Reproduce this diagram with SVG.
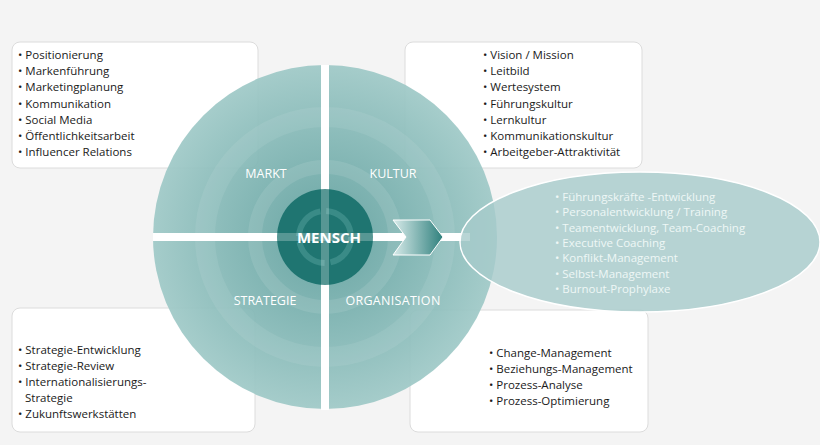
<svg xmlns="http://www.w3.org/2000/svg" width="820" height="445" viewBox="0 0 820 445">
<defs>
<radialGradient id="g" cx="325" cy="237" r="172" gradientUnits="userSpaceOnUse">
<stop offset="0" stop-color="#5f9f9d"/><stop offset="0.6" stop-color="#84b8b6"/><stop offset="1" stop-color="#9fc9c7"/>
</radialGradient>
<linearGradient id="ar" x1="0" y1="0" x2="1" y2="0"><stop offset="0" stop-color="#d8ebea"/><stop offset="1" stop-color="#2f807d"/></linearGradient>
<style>
.box{fill:#fff;stroke:#dcdcdc;stroke-width:1}
.t{font-family:"Open Sans","DejaVu Sans",sans-serif;font-size:11.5px;fill:#1a1a1a}
.w{font-family:"Open Sans","DejaVu Sans",sans-serif;font-size:11.5px;fill:#eef7f6}
.lab{font-family:"Open Sans","DejaVu Sans",sans-serif;font-size:12.5px;fill:#fff}
</style>
</defs>
<rect width="820" height="445" fill="#f4f4f4"/>
<g id="box-markt"><rect class="box" x="12" y="42" width="246" height="126" rx="8"/>
<text class="t" x="18" y="59"><tspan x="18">• Positionierung</tspan><tspan x="18" dy="16.2">• Markenführung</tspan><tspan x="18" dy="16.2">• Marketingplanung</tspan><tspan x="18" dy="16.2">• Kommunikation</tspan><tspan x="18" dy="16.2">• Social Media</tspan><tspan x="18" dy="16.2">• Öffentlichkeitsarbeit</tspan><tspan x="18" dy="16.2">• Influencer Relations</tspan></text></g>
<g id="box-kultur"><rect class="box" x="405" y="42" width="237" height="126" rx="8"/>
<text class="t" x="483" y="59"><tspan x="483">• Vision / Mission</tspan><tspan x="483" dy="16.2">• Leitbild</tspan><tspan x="483" dy="16.2">• Wertesystem</tspan><tspan x="483" dy="16.2">• Führungskultur</tspan><tspan x="483" dy="16.2">• Lernkultur</tspan><tspan x="483" dy="16.2">• Kommunikationskultur</tspan><tspan x="483" dy="16.2">• Arbeitgeber-Attraktivität</tspan></text></g>
<g id="box-strategie"><rect class="box" x="12" y="308" width="243" height="124" rx="8"/>
<text class="t" x="18" y="354"><tspan x="18">• Strategie-Entwicklung</tspan><tspan x="18" dy="16">• Strategie-Review</tspan><tspan x="18" dy="16">• Internationalisierungs-</tspan><tspan x="25" dy="16">Strategie</tspan><tspan x="18" dy="16">• Zukunftswerkstätten</tspan></text></g>
<g id="box-organisation"><rect class="box" x="410" y="310" width="238" height="122" rx="8"/>
<text class="t" x="489" y="357"><tspan x="489">• Change-Management</tspan><tspan x="489" dy="16">• Beziehungs-Management</tspan><tspan x="489" dy="16">• Prozess-Analyse</tspan><tspan x="489" dy="16">• Prozess-Optimierung</tspan></text></g>
<g id="circle">
<circle cx="325" cy="237" r="172" fill="url(#g)" opacity="0.93"/>
<circle cx="325" cy="237" r="120" fill="none" stroke="#fff" stroke-opacity="0.08" stroke-width="20"/>
<circle cx="325" cy="237" r="70" fill="none" stroke="#fff" stroke-opacity="0.1" stroke-width="14"/>
</g>
<g id="connectors">
<rect x="153" y="233" width="317" height="8" fill="#fff"/>
<rect x="321" y="65" width="8" height="345" fill="#fff"/>
<polygon points="393,220 430,220 443,237 430,255 393,255 406,237" fill="url(#ar)" stroke="#fff" stroke-width="1"/>
</g>
<g id="ellipse"><ellipse cx="640" cy="242" rx="180" ry="70" fill="#a6cbca" fill-opacity="0.8" stroke="#fff" stroke-width="1.5"/>
<text class="w" x="555" y="201"><tspan x="555">• Führungskräfte -Entwicklung</tspan><tspan x="555" dy="15.3">• Personalentwicklung /  Training</tspan><tspan x="555" dy="15.3">• Teamentwicklung, Team-Coaching</tspan><tspan x="555" dy="15.3">• Executive Coaching</tspan><tspan x="555" dy="15.3">• Konflikt-Management</tspan><tspan x="555" dy="15.3">• Selbst-Management</tspan><tspan x="555" dy="15.3">• Burnout-Prophylaxe</tspan></text></g>
<g id="mensch">
<circle cx="325" cy="237" r="48" fill="#1f7571"/>
<circle cx="325" cy="237" r="26" fill="none" stroke="#3a8b87" stroke-width="6" stroke-dasharray="35 6"/>
<rect x="277" y="233" width="96" height="8" fill="#fff" opacity="0.25"/>
<rect x="321" y="189" width="8" height="96" fill="#fff" opacity="0.25"/>
<text x="329" y="243" text-anchor="middle" font-family="'Open Sans','DejaVu Sans',sans-serif" font-weight="bold" font-size="15" fill="#fff">MENSCH</text>
</g>
<g id="labels">
<text class="lab" x="266" y="178" text-anchor="middle">MARKT</text>
<text class="lab" x="393" y="178" text-anchor="middle">KULTUR</text>
<text class="lab" x="265" y="305" text-anchor="middle">STRATEGIE</text>
<text class="lab" x="393" y="305" text-anchor="middle" letter-spacing="0.3">ORGANISATION</text>
</g>
</svg>
